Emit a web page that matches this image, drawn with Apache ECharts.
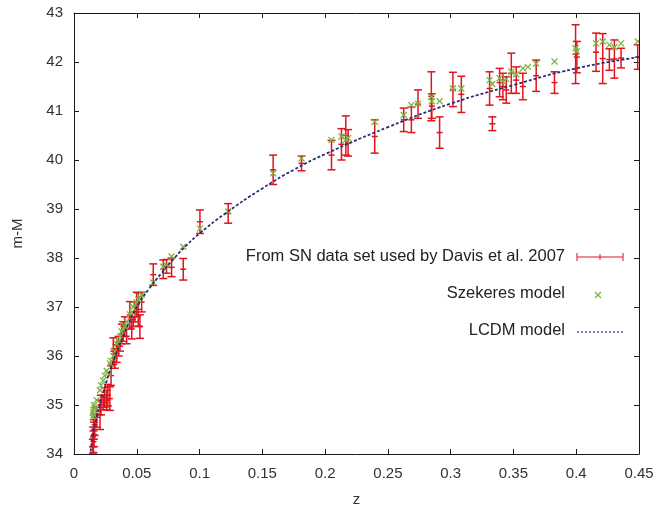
<!DOCTYPE html>
<html>
<head>
<meta charset="utf-8">
<script src="https://cdn.jsdelivr.net/npm/echarts@6/dist/echarts.min.js"></script>
<style>html,body{margin:0;padding:0;background:#fff;}#c{width:659px;height:510px;}</style>
</head>
<body>
<div id="c"></div>
<script>
// SN data (Davis et al. 2007 set): redshift, distance modulus, error
const snZ = [0.0150,0.0152,0.0155,0.0158,0.0160,0.0165,0.0180,0.0207,0.0215,0.0233,0.0245,0.0260,0.0270,0.0286,0.0295,0.0313,0.0325,0.0340,0.0355,0.0366,0.0380,0.0392,0.0405,0.0419,0.0445,0.0460,0.0472,0.0485,0.0499,0.0512,0.0525,0.0539,0.0631,0.0711,0.0737,0.0777,0.0870,0.1003,0.1228,0.1586,0.1812,0.2051,0.2130,0.2165,0.2183,0.2395,0.2626,0.2687,0.2740,0.2846,0.2850,0.2912,0.3018,0.3085,0.3310,0.3332,0.3390,0.3416,0.3443,0.3483,0.3522,0.3575,0.3681,0.3827,0.3995,0.4005,0.4158,0.4211,0.4264,0.4304,0.4357,0.4490];
const snMu = [34.15,34.35,34.25,34.50,34.40,34.60,34.75,34.80,35.00,35.05,35.15,35.10,35.20,35.13,35.60,36.10,35.95,36.05,36.20,36.20,36.45,36.50,36.60,36.40,36.84,36.55,36.70,36.90,37.05,36.95,36.60,37.10,37.66,37.77,37.83,37.81,37.77,38.74,38.91,39.80,39.93,40.10,40.32,40.50,40.35,40.48,40.82,40.82,41.14,41.30,41.10,40.56,41.44,41.34,41.46,40.74,41.58,41.50,41.43,41.77,41.63,41.50,41.72,41.58,42.16,42.10,42.20,42.07,42.05,42.06,42.08,42.10];
const snErr = [0.15,0.20,0.22,0.20,0.25,0.22,0.20,0.30,0.20,0.15,0.20,0.20,0.22,0.24,0.20,0.27,0.20,0.18,0.20,0.10,0.20,0.20,0.20,0.15,0.27,0.20,0.10,0.20,0.25,0.34,0.24,0.20,0.22,0.19,0.14,0.19,0.22,0.24,0.20,0.30,0.15,0.30,0.32,0.40,0.27,0.34,0.24,0.26,0.29,0.50,0.25,0.32,0.35,0.37,0.34,0.14,0.29,0.27,0.27,0.41,0.27,0.27,0.32,0.22,0.60,0.32,0.39,0.51,0.22,0.39,0.20,0.25];
// Szekeres model values
const szZ = [0.0150,0.0152,0.0155,0.0158,0.0160,0.0165,0.0180,0.0207,0.0215,0.0233,0.0245,0.0260,0.0270,0.0286,0.0295,0.0313,0.0325,0.0340,0.0355,0.0366,0.0380,0.0392,0.0405,0.0419,0.0445,0.0460,0.0472,0.0485,0.0499,0.0512,0.0525,0.0539,0.0631,0.0711,0.0737,0.0777,0.0870,0.1003,0.1228,0.1586,0.1812,0.2051,0.2130,0.2165,0.2183,0.2395,0.2626,0.2687,0.2740,0.2846,0.2850,0.2912,0.3018,0.3085,0.3310,0.3332,0.3390,0.3416,0.3443,0.3483,0.3522,0.3575,0.3615,0.3681,0.3827,0.3995,0.4005,0.4158,0.4211,0.4264,0.4304,0.4357,0.4490];
const szMu = [34.75,34.85,34.90,34.80,35.00,34.95,35.10,35.30,35.40,35.50,35.60,35.70,35.65,35.85,35.90,36.00,36.10,36.25,36.30,36.40,36.50,36.55,36.60,36.70,36.85,36.90,37.00,37.05,37.10,37.15,37.20,37.25,37.50,37.82,37.85,38.03,38.23,38.60,38.95,39.73,40.03,40.41,40.48,40.41,40.45,40.78,40.92,41.12,41.15,41.29,41.20,41.20,41.46,41.46,41.63,41.55,41.67,41.60,41.65,41.80,41.75,41.87,41.90,41.97,42.01,42.28,42.22,42.38,42.42,42.35,42.30,42.38,42.42];
// LCDM model curve
const lcdmZ = [0.0125,0.0135,0.015,0.020,0.025,0.030,0.040,0.050,0.060,0.070,0.080,0.090,0.100,0.120,0.150,0.175,0.200,0.250,0.300,0.350,0.400,0.450];
const lcdmMu = [33.85,34.10,34.38,34.95,35.40,35.80,36.45,37.00,37.38,37.70,38.00,38.27,38.50,38.90,39.42,39.80,40.12,40.67,41.15,41.53,41.87,42.10];
// Axis ticks / labels
const xTicks = {min: 0, max: 0.45, interval: 0.05};
const yTicks = {min: 34, max: 43, interval: 1};
const legendLabels = ['From SN data set used by Davis et al. 2007', 'Szekeres model', 'LCDM model'];

const RED = '#e0141c', GREEN = '#7cb342', NAVY = '#2b2e78';
const snData = snZ.map((z, i) => [z, snMu[i], snErr[i]]);
const szData = szZ.map((z, i) => [z, szMu[i]]);
const lcdmData = lcdmZ.map((z, i) => [z, lcdmMu[i]]);

const chart = echarts.init(document.getElementById('c'), null, {renderer: 'canvas'});
const font = 'Liberation Sans, Arial, sans-serif';
const axisCommon = {
  axisLine: {show: true, onZero: false, lineStyle: {color: '#1a1a1a', width: 1}},
  axisTick: {show: true, inside: true, length: 5, lineStyle: {color: '#1a1a1a'}},
  splitLine: {show: false}
};
chart.setOption({
  animation: false,
  backgroundColor: '#fff',
  grid: {left: 74, right: 20, top: 13, bottom: 56, containLabel: false, outerBoundsMode: 'none'},
  xAxis: [
    Object.assign({type: 'value', position: 'bottom', min: xTicks.min, max: xTicks.max, interval: xTicks.interval,
      name: 'z', nameLocation: 'middle', nameGap: 38,
      nameTextStyle: {fontFamily: font, fontSize: 15, color: '#333'},
      axisLabel: {fontFamily: font, fontSize: 15, color: '#333', margin: 12}}, axisCommon),
    Object.assign({type: 'value', position: 'top', min: xTicks.min, max: xTicks.max, interval: xTicks.interval,
      axisLabel: {show: false}}, axisCommon)
  ],
  yAxis: [
    Object.assign({type: 'value', position: 'left', min: yTicks.min, max: yTicks.max, interval: yTicks.interval,
      name: 'm-M', nameLocation: 'middle', nameGap: 49, nameRotate: 90,
      nameTextStyle: {fontFamily: font, fontSize: 15, color: '#333'},
      axisLabel: {fontFamily: font, fontSize: 15, color: '#333', margin: 11}}, axisCommon),
    Object.assign({type: 'value', position: 'right', min: yTicks.min, max: yTicks.max, interval: yTicks.interval,
      axisLabel: {show: false}}, axisCommon)
  ],
  series: [
    {
      name: legendLabels[0], type: 'custom', clip: true, data: snData,
      renderItem: function (params, api) {
        const z = api.value(0), m = api.value(1), e = api.value(2);
        const t = api.coord([z, m + e]), b = api.coord([z, m - e]), c = api.coord([z, m]);
        const cap = 4, tk = 3;
        const st = {stroke: RED, lineWidth: 1.5};
        return {type: 'group', children: [
          {type: 'line', shape: {x1: t[0], y1: t[1], x2: b[0], y2: b[1]}, style: st},
          {type: 'line', shape: {x1: t[0] - cap, y1: t[1], x2: t[0] + cap, y2: t[1]}, style: st},
          {type: 'line', shape: {x1: b[0] - cap, y1: b[1], x2: b[0] + cap, y2: b[1]}, style: st},
          {type: 'line', shape: {x1: c[0] - tk, y1: c[1], x2: c[0] + tk, y2: c[1]}, style: st}
        ]};
      }
    },
    {
      name: legendLabels[1], type: 'custom', clip: true, data: szData,
      renderItem: function (params, api) {
        const c = api.coord([api.value(0), api.value(1)]);
        const s = 3;
        const st = {stroke: GREEN, lineWidth: 1.3};
        return {type: 'group', children: [
          {type: 'line', shape: {x1: c[0] - s, y1: c[1] - s, x2: c[0] + s, y2: c[1] + s}, style: st},
          {type: 'line', shape: {x1: c[0] - s, y1: c[1] + s, x2: c[0] + s, y2: c[1] - s}, style: st}
        ]};
      }
    },
    {
      name: legendLabels[2], type: 'line', data: lcdmData, smooth: true, showSymbol: false, clip: true,
      lineStyle: {color: NAVY, width: 1.8, type: [3, 2]}
    }
  ],
  graphic: [
    {type: 'text', right: 659 - 565, top: 248, style: {text: legendLabels[0], font: '16.5px ' + font, fill: '#222'}},
    {type: 'text', right: 659 - 565, top: 285, style: {text: legendLabels[1], font: '16.5px ' + font, fill: '#222'}},
    {type: 'text', right: 659 - 565, top: 322, style: {text: legendLabels[2], font: '16.5px ' + font, fill: '#222'}},
    {type: 'line', shape: {x1: 577, y1: 257, x2: 623, y2: 257}, style: {stroke: RED, lineWidth: 1}},
    {type: 'line', shape: {x1: 577, y1: 253, x2: 577, y2: 261}, style: {stroke: RED, lineWidth: 1}},
    {type: 'line', shape: {x1: 623, y1: 253, x2: 623, y2: 261}, style: {stroke: RED, lineWidth: 1}},
    {type: 'line', shape: {x1: 600, y1: 254, x2: 600, y2: 260}, style: {stroke: RED, lineWidth: 1}},
    {type: 'line', shape: {x1: 595, y1: 292, x2: 601, y2: 298}, style: {stroke: GREEN, lineWidth: 1.2}},
    {type: 'line', shape: {x1: 595, y1: 298, x2: 601, y2: 292}, style: {stroke: GREEN, lineWidth: 1.2}},
    {type: 'line', shape: {x1: 577, y1: 332, x2: 623, y2: 332}, style: {stroke: NAVY, lineWidth: 1.2, lineDash: [2, 2]}}
  ]
});
</script>
</body>
</html>
